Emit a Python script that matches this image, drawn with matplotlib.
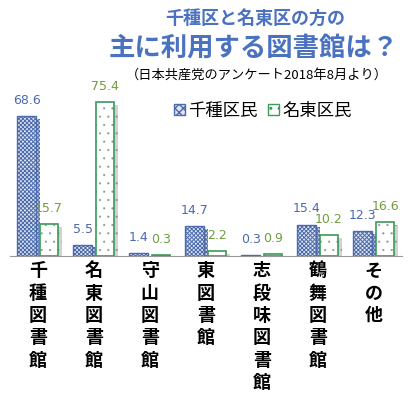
import numpy as np
import matplotlib
matplotlib.use('Agg')
import matplotlib.pyplot as plt
import matplotlib.patheffects as pe
from matplotlib.patches import Patch

plt.rcParams['font.family'] = ['Noto Sans CJK JP', 'DejaVu Sans']

categories = ['千種図書館', '名東図書館', '守山図書館', '東図書館', '志段味図書館', '鶴舞図書館', 'その他']
chikusa = [68.6, 5.5, 1.4, 14.7, 0.3, 15.4, 12.3]
meito = [15.7, 75.4, 0.3, 2.2, 0.9, 10.2, 16.6]
series_names = ['千種区民', '名東区民']

blue = '#4a6aac'
green = '#3a9a5a'
blue_txt = '#4a6aac'
green_txt = '#6e9e3e'

fig = plt.figure(figsize=(4.10, 3.98), dpi=100)
ax = fig.add_axes([0.024, 0.357, 0.956, 0.41])

x = np.arange(len(categories))
w = 0.33
shadow = [pe.SimplePatchShadow(offset=(3, -2), shadow_rgbFace='gray', alpha=0.35), pe.Normal()]

with plt.rc_context({'hatch.linewidth': 0.7}):
    ax.bar(x - 0.2, chikusa, w, facecolor='#dfe5f1', edgecolor=blue, hatch='xxxxxxxx',
           linewidth=1.0, path_effects=shadow)
with plt.rc_context({'hatch.linewidth': 0.3}):
    ax.bar(x + 0.2, meito, w, facecolor='white', edgecolor='#909090', hatch='..',
           linewidth=0, path_effects=shadow)
ax.bar(x + 0.2, meito, w, facecolor='none', edgecolor=green, linewidth=1.2)

for xi, v in zip(x, chikusa):
    ax.text(xi - 0.2, v + 4.5, f'{v}', ha='center', va='bottom', color=blue_txt,
            fontsize=9, family='DejaVu Sans')
for xi, v in zip(x, meito):
    ax.text(xi + 0.2, v + 4.5, f'{v}', ha='center', va='bottom', color=green_txt,
            fontsize=9, family='DejaVu Sans')

ax.set_xlim(-0.5, 6.5)
ax.set_ylim(0, 80)
for s in ['top', 'right', 'left']:
    ax.spines[s].set_visible(False)
ax.spines['bottom'].set_color('#999999')
ax.set_yticks([])
ax.set_xticks(x)
ax.set_xticklabels(['\n'.join(c) for c in categories], fontsize=13, fontweight='bold',
                   va='top', linespacing=1.22)
ax.tick_params(axis='x', length=0, pad=4)

with plt.rc_context({'hatch.linewidth': 0.5}):
    handles = [Patch(facecolor='#dfe5f1', edgecolor=blue, hatch='xxxx'),
               Patch(facecolor='white', edgecolor=green, hatch='..')]
ax.legend(handles, series_names, loc='upper left', bbox_to_anchor=(0.38, 1.04), ncol=2,
          frameon=False, fontsize=12.5, handlelength=0.6, handleheight=0.6,
          handletextpad=0.2, columnspacing=0.6)

fig.text(0.622, 0.955, '千種区と名東区の方の', ha='center', va='center', color='#4a72c0',
         fontsize=13, fontweight='bold')
fig.text(0.618, 0.88, '主に利用する図書館は？', ha='center', va='center', color='#4a72c0',
         fontsize=19, fontweight='bold')
fig.text(0.627, 0.81, '（日本共産党のアンケート2018年8月より）', ha='center', va='center',
         color='black', fontsize=9.5)

fig.savefig('out.png', dpi=100)
